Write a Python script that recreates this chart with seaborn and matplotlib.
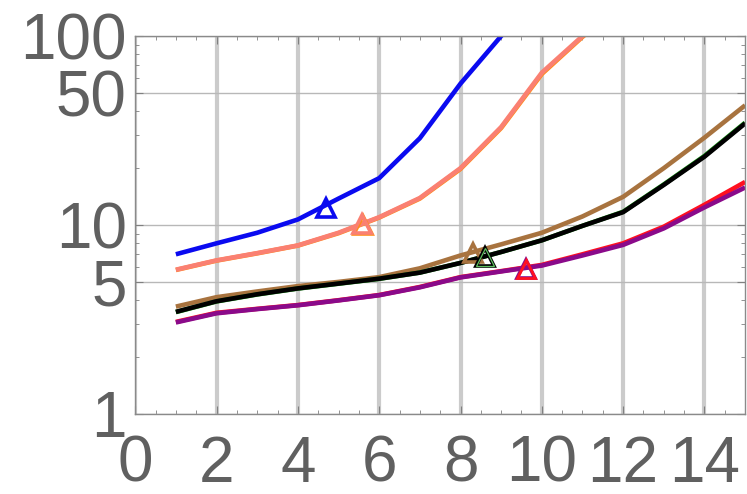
import matplotlib
matplotlib.use("Agg")
import matplotlib.pyplot as plt
import matplotlib.ticker as mticker
import seaborn as sns
import pandas as pd

# ---- data ----
x_blue = [1, 2, 3, 4, 5, 6, 7, 8, 9, 10]
y_blue = [7.0, 8.0, 9.1, 10.7, 13.8, 17.7, 28.8, 56, 100, 175]

x_salmon = [1, 2, 3, 4, 5, 6, 7, 8, 9, 10, 11, 12]
y_orange = [5.78, 6.48, 7.08, 7.78, 9.05, 10.95, 13.8, 19.8, 32.6, 63, 99, 150]
y_salmon = [5.8, 6.5, 7.1, 7.8, 9.1, 11.0, 13.9, 20.0, 33, 64, 100, 150]

x_long = [1, 2, 3, 4, 5, 6, 7, 8, 9, 10, 11, 12, 13, 14, 15]
y_brown = [3.7, 4.15, 4.45, 4.75, 5.0, 5.3, 5.9, 6.9, 7.9, 9.1, 11.1, 14.1, 20.0, 29.0, 43.0]
y_green = [3.46, 3.94, 4.29, 4.61, 4.89, 5.19, 5.6, 6.3, 7.2, 8.3, 9.9, 11.75, 16.4, 23.2, 34.8]
y_black = [3.47, 3.95, 4.3, 4.62, 4.9, 5.2, 5.6, 6.3, 7.2, 8.3, 9.9, 11.7, 16.3, 23.0, 34.5]
y_red = [3.07, 3.43, 3.6, 3.77, 4.0, 4.26, 4.7, 5.3, 5.7, 6.15, 7.0, 8.0, 9.8, 12.8, 16.9]
y_purple = [3.05, 3.41, 3.59, 3.76, 3.99, 4.25, 4.68, 5.28, 5.68, 6.1, 6.9, 7.85, 9.6, 12.4, 15.8]

# marker points (x, y)
mark_blue = (4.68, 12.3)
mark_orange = (5.59, 10.05)
mark_salmon = (5.57, 10.1)
mark_brown = (8.3, 7.15)
mark_green = (8.6, 6.75)
mark_black = (8.6, 6.75)
mark_purple = (9.62, 5.85)
mark_red = (9.6, 5.85)

x_ticks = [0, 2, 4, 6, 8, 10, 12, 14]
y_ticks = [1, 5, 10, 50, 100]
y_ticklabels = ["1", "5", "10", "50", "100"]

# ---- plot ----
sns.set_theme(style="white")
plt.rcParams["font.family"] = ["Liberation Sans", "DejaVu Sans"]

fig = plt.figure(figsize=(7.47, 4.94), dpi=100)
ax = fig.add_axes([0.181, 0.162, 0.8165, 0.765])

lines = [
    (x_blue, y_blue, "#0a0af0"),
    (x_salmon, y_orange, "#ff8c1a"),
    (x_salmon, y_salmon, "#fa8072"),
    (x_long, y_brown, "#a8733f"),
    (x_long, y_green, "#1a9a1a"),
    (x_long, y_black, "#000000"),
    (x_long, y_red, "#ff1020"),
    (x_long, y_purple, "#8a0a8a"),
]

for xs, ys, c in lines:
    df = pd.DataFrame({"x": xs, "y": ys})
    sns.lineplot(data=df, x="x", y="y", color=c, lw=3.3, ax=ax,
                 solid_capstyle="butt")

# markers: (point, colour, edge width), drawn in this order
markers = [
    (mark_blue, "#0a0af0", 2.6),
    (mark_orange, "#ff8c1a", 2.6),
    (mark_salmon, "#fa8072", 2.6),
    (mark_brown, "#a8733f", 2.6),
    (mark_black, "#000000", 2.6),
    (mark_green, "#5fbf5f", 0.9),
    (mark_purple, "#8a0a8a", 2.6),
    (mark_red, "#ff1020", 2.0),
]
for (mx, my), c, mw in markers:
    ax.plot([mx], [my], marker="^", ls="none", ms=13, mfc="none",
            mec=c, mew=mw, zorder=5)

ax.set_yscale("log")
ax.set_xlim(0, 15)
ax.set_ylim(1, 100)
ax.set_xlabel("")
ax.set_ylabel("")

ax.set_xticks(x_ticks)
ax.set_xticklabels([str(t) for t in x_ticks])
ax.xaxis.set_minor_locator(mticker.MultipleLocator(0.5))
ax.set_yticks(y_ticks)
ax.set_yticklabels(y_ticklabels)
ax.yaxis.set_minor_locator(mticker.LogLocator(base=10, subs=(2, 3, 4, 6, 7, 8, 9)))
ax.yaxis.set_minor_formatter(mticker.NullFormatter())

label_color = "#606060"
ax.tick_params(axis="x", which="major", direction="in", length=6, width=0.8,
               colors="#808080", labelcolor=label_color, labelsize=46, pad=15,
               top=True, bottom=True)
ax.tick_params(axis="x", which="minor", direction="in", length=3, width=0.6,
               colors="#808080", top=True, bottom=True)
ax.tick_params(axis="y", which="major", direction="in", length=6, width=0.8,
               colors="#808080", labelcolor=label_color, labelsize=46, pad=6,
               left=True, right=True)
ax.tick_params(axis="y", which="minor", direction="in", length=3, width=0.6,
               colors="#808080", left=True, right=True)

ax.set_axisbelow(True)
ax.grid(axis="x", which="major", color="#cbcbcb", lw=3)
ax.grid(axis="y", which="major", color="#b8b8b8", lw=1)

for s in ax.spines.values():
    s.set_color("#8a8a8a")
    s.set_linewidth(1)

fig.savefig("out.png", dpi=100)
